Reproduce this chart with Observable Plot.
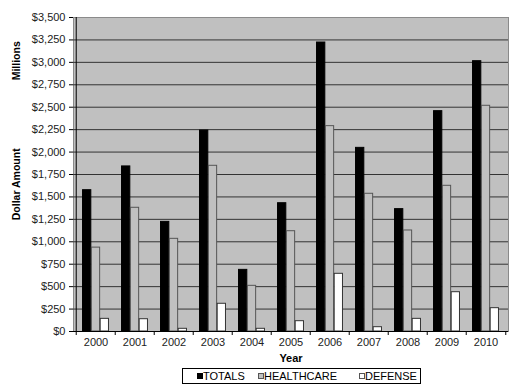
<!DOCTYPE html>
<html>
<head>
<meta charset="utf-8">
<script src="https://cdn.jsdelivr.net/npm/d3@7"></script>
<script src="https://cdn.jsdelivr.net/npm/@observablehq/plot@0.6"></script>
<style>
  html, body { margin: 0; padding: 0; background: #fff; }
  body { width: 525px; height: 392px; position: relative; font-family: "Liberation Sans", Arial, sans-serif; }
  #chart svg { display: block; }
  #legend {
    position: absolute; left: 182px; top: 368px; width: 237px; height: 14px;
    border: 1px solid #000; font-size: 11px; color: #000; line-height: 14px;
    white-space: nowrap;
  }
  #legend .item { position: absolute; top: 0; }
  #legend .sw { display: inline-block; width: 4px; height: 4px; border: 1px solid #000; margin-right: 0px; vertical-align: 1px; }
</style>
</head>
<body>
<div id="chart"></div>
<div id="legend"></div>
<script>
const years = ["2000","2001","2002","2003","2004","2005","2006","2007","2008","2009","2010"];
const totals     = [1575, 1840, 1222, 2240, 687, 1430, 3221, 2047, 1364, 2456, 3013];
const healthcare = [ 935, 1379, 1033, 1847, 509, 1118, 2289, 1535, 1126, 1624, 2516];
const defense    = [ 141,  137,   30,  309,  30,  115,  643,   48,  141,  438,  260];
const seriesNames = ["TOTALS", "HEALTHCARE", "DEFENSE"];
const seriesFill = ["#000000", "#c0c0c0", "#ffffff"];
const seriesStroke = ["#000000", "#555555", "#333333"];
const yTicks = d3.range(0, 3501, 250);

const W = 525, H = 367, mL = 73, mR = 17, mT = 17, mB = 36;
const bw = (W - mL - mR) / years.length;
const barW = bw * 0.67 / 3;
const pad = (bw - 3 * barW) / 2;

const rows = [totals, healthcare, defense].map(vals => years.map((y, i) => ({year: y, value: vals[i]})));

const barMarks = rows.map((data, s) => Plot.barY(data, {
  x: "year", y: "value",
  fill: seriesFill[s], stroke: seriesStroke[s], strokeWidth: 1,
  insetLeft: pad + s * barW, insetRight: bw - pad - (s + 1) * barW
}));

const chart = Plot.plot({
  width: W, height: H,
  marginLeft: mL, marginRight: mR, marginTop: mT, marginBottom: mB,
  style: {fontFamily: "'Liberation Sans', Arial, sans-serif", fontSize: "11px", color: "#111", background: "#fff"},
  x: {type: "band", domain: years, padding: 0, label: null},
  y: {domain: [0, 3500], label: null},
  marks: [
    Plot.frame({fill: "#c0c0c0", stroke: "#8a8a8a"}),
    Plot.ruleY(yTicks.filter(t => t > 0 && t < 3500), {stroke: "#333", strokeWidth: 1}),
    ...barMarks,
    Plot.ruleY([0], {stroke: "#000"}),
    Plot.ruleX([years[0]], {dx: -bw / 2, stroke: "#000"}),
    Plot.axisY({ticks: yTicks, tickSize: 4, tickPadding: 4, tickFormat: d3.format("$,"), stroke: "#000", fill: "#222", fontSize: 11, label: null}),
    Plot.axisX({tickSize: 0, tickPadding: 7, fill: "#222", fontSize: 11, label: null}),
    Plot.axisX({tickSize: 4, tickFormat: () => "", dx: -bw / 2, stroke: "#000", label: null}),
    Plot.axisX({ticks: [years[years.length - 1]], tickSize: 4, tickFormat: () => "", dx: bw / 2, stroke: "#000", label: null}),
    Plot.text(["Year"], {frameAnchor: "bottom", dy: 30, fontWeight: "bold", fontSize: 11, fill: "#000"}),
    Plot.text(["Millions"], {frameAnchor: "left", y: () => 2800, dx: -57, rotate: -90, fontWeight: "bold", fontSize: 10.5, fill: "#000"}),
    Plot.text(["Dollar Amount"], {frameAnchor: "left", y: () => 1240, dx: -57, rotate: -90, fontWeight: "bold", fontSize: 10.5, fill: "#000"})
  ]
});
document.getElementById("chart").appendChild(chart);

const legend = document.getElementById("legend");
const offsets = [14, 75, 176];
seriesNames.forEach((name, i) => {
  const item = document.createElement("span");
  item.className = "item";
  item.style.left = offsets[i] + "px";
  const sw = document.createElement("span");
  sw.className = "sw";
  sw.style.background = seriesFill[i];
  sw.style.borderColor = i === 0 ? "#000" : "#555";
  item.appendChild(sw);
  item.appendChild(document.createTextNode(name));
  legend.appendChild(item);
});
</script>
</body>
</html>
